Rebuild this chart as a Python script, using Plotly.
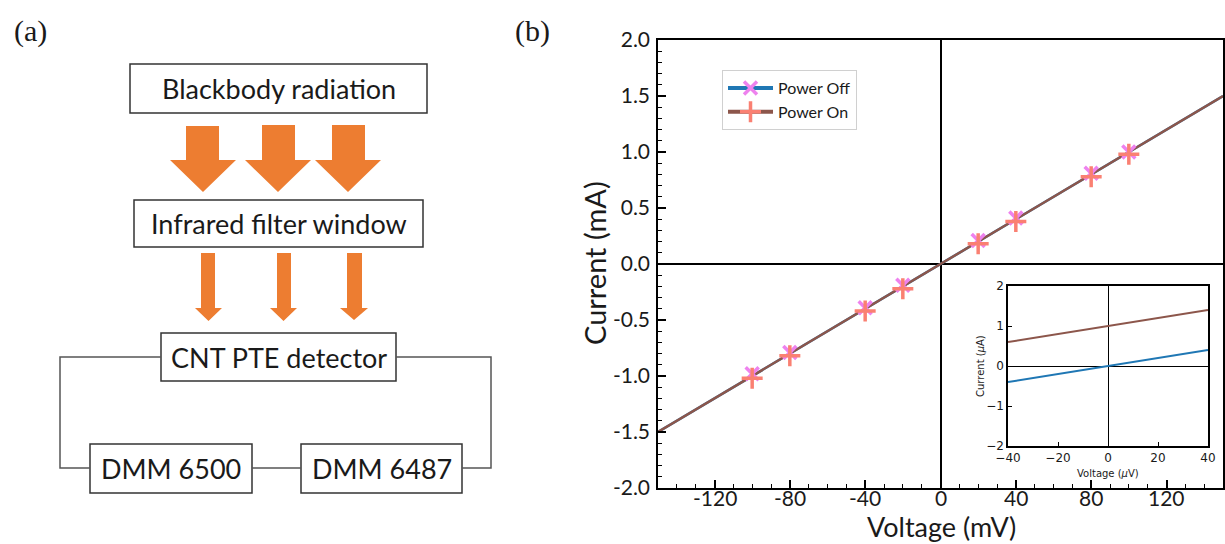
import plotly.graph_objects as go

W, H = 1225, 544

# ---------------- data ----------------
voltage_mv = [-100, -80, -40, -20, 20, 40, 80, 100]
current_off_ma = [-0.98, -0.79, -0.39, -0.19, 0.21, 0.41, 0.81, 1.00]
current_on_ma = [-1.02, -0.82, -0.42, -0.22, 0.18, 0.38, 0.78, 0.98]
fit_voltage_mv = [-150, 150]
fit_current_ma = [-1.5, 1.5]

inset_voltage_uv = [-40, 40]
inset_off_ua = [-0.4, 0.4]
inset_on_ua = [0.6, 1.4]

x_tick_vals = [-120, -80, -40, 0, 40, 80, 120]
x_tick_text = ["-120", "-80", "-40", "0", "40", "80", "120"]
y_tick_vals = [2.0, 1.5, 1.0, 0.5, 0.0, -0.5, -1.0, -1.5, -2.0]
y_tick_text = ["2.0", "1.5", "1.0", "0.5", "0.0", "-0.5", "-1.0", "-1.5", "-2.0"]
x_minor_vals = list(range(-150, 151, 10))
y_minor_vals = [round(-2 + 0.1 * i, 1) for i in range(41)]

inset_x_ticks = [-40, -20, 0, 20, 40]
inset_y_ticks = [-2, -1, 0, 1, 2]

BLUE = "#1f77b4"
BROWN = "#8c564b"
VIOLET = "#ee82ee"
SALMON = "#fa8072"
ORANGE = "#ed7d31"


def px(x):
    return x / W


def py(y):
    return 1 - y / H


fig = go.Figure()

fig.add_trace(go.Scatter(x=fit_voltage_mv, y=fit_current_ma, mode="lines",
                         line=dict(color=BLUE, width=2.5), showlegend=False,
                         xaxis="x", yaxis="y"))
fig.add_trace(go.Scatter(x=fit_voltage_mv, y=fit_current_ma, mode="lines",
                         line=dict(color=BROWN, width=2.5), showlegend=False,
                         xaxis="x", yaxis="y"))
fig.add_trace(go.Scatter(x=voltage_mv, y=current_off_ma, mode="markers",
                         marker=dict(symbol="x-thin", size=13, color=VIOLET,
                                     line=dict(color=VIOLET, width=3.5)),
                         showlegend=False, xaxis="x", yaxis="y"))
fig.add_trace(go.Scatter(x=voltage_mv, y=current_on_ma, mode="markers",
                         marker=dict(symbol="cross-thin", size=15, color=SALMON,
                                     line=dict(color=SALMON, width=3.5)),
                         showlegend=False, xaxis="x", yaxis="y"))
fig.add_trace(go.Scatter(x=[None], y=[None], mode="lines+markers", name="Power Off",
                         line=dict(color=BLUE, width=4),
                         marker=dict(symbol="x-thin", size=13, color=VIOLET,
                                     line=dict(color=VIOLET, width=3.5)),
                         xaxis="x", yaxis="y"))
fig.add_trace(go.Scatter(x=[None], y=[None], mode="lines+markers", name="Power On",
                         line=dict(color=BROWN, width=4),
                         marker=dict(symbol="cross-thin", size=15, color=SALMON,
                                     line=dict(color=SALMON, width=3.5)),
                         xaxis="x", yaxis="y"))

fig.add_trace(go.Scatter(x=inset_voltage_uv, y=inset_on_ua, mode="lines",
                         line=dict(color=BROWN, width=2), showlegend=False,
                         xaxis="x2", yaxis="y2"))
fig.add_trace(go.Scatter(x=inset_voltage_uv, y=inset_off_ua, mode="lines",
                         line=dict(color=BLUE, width=2), showlegend=False,
                         xaxis="x2", yaxis="y2"))

MAIN_FONT = "Lato, 'Open Sans', sans-serif"
INSET_FONT = "DejaVu Sans, sans-serif"
TEXT_COLOR = "#1a1a1a"


def axis_common(zw):
    return dict(showline=True, mirror=True, linecolor="black", linewidth=1.5,
                ticks="inside", tickcolor="black", showgrid=False, automargin=False,
                zeroline=True, zerolinecolor="black", zerolinewidth=zw)


fig.update_layout(
    width=W, height=H, autosize=False,
    margin=dict(l=0, r=0, t=0, b=0, pad=0),
    paper_bgcolor="white", plot_bgcolor="white",
    font=dict(family=MAIN_FONT, color=TEXT_COLOR),
    xaxis=dict(**axis_common(1.5), domain=[px(658), px(1223)], anchor="y",
               range=[-150, 150], tickmode="array", tickvals=x_tick_vals,
               ticktext=x_tick_text, ticklen=8, tickwidth=2,
               showticklabels=False,
               minor=dict(tickmode="array", tickvals=x_minor_vals, ticks="inside",
                          ticklen=4, tickwidth=1.2, tickcolor="black")),
    yaxis=dict(**axis_common(1.5), domain=[py(488), py(40)], anchor="x",
               range=[-2, 2], tickmode="array", tickvals=y_tick_vals,
               ticktext=y_tick_text, ticklen=8, tickwidth=2,
               tickfont=dict(size=21), ticklabelstandoff=2,
               minor=dict(tickmode="array", tickvals=y_minor_vals, ticks="inside",
                          ticklen=4, tickwidth=1.2, tickcolor="black")),
    xaxis2=dict(**axis_common(1.2), domain=[px(1008), px(1208)], anchor="y2",
                range=[-40, 40], tickmode="array", tickvals=inset_x_ticks,
                ticklen=4, tickwidth=1,
                tickfont=dict(size=12, family=INSET_FONT)),
    yaxis2=dict(**axis_common(1.2), domain=[py(446), py(286)], anchor="x2",
                range=[-2, 2], tickmode="array", tickvals=inset_y_ticks,
                ticklen=4, tickwidth=1,
                tickfont=dict(size=12, family=INSET_FONT)),
    legend=dict(x=px(722), y=py(70), xanchor="left", yanchor="top",
                bgcolor="white", bordercolor="#d0d0d0", borderwidth=1,
                itemwidth=45,
                font=dict(size=16, family=MAIN_FONT), tracegroupgap=0),
)

# main x tick labels, placed on the x axis scale
for val, txt in zip(x_tick_vals, x_tick_text):
    fig.add_annotation(x=val, xref="x", y=py(497.5), yref="paper", text=txt,
                       showarrow=False, xanchor="center", yanchor="middle",
                       font=dict(size=21, family=MAIN_FONT, color=TEXT_COLOR))

axis_titles = [
    ("Voltage (mV)", 941, 526.5, 0, 27, MAIN_FONT),
    ("Current (mA)", 594, 263, -90, 29, MAIN_FONT),
    ("Voltage (<i>μ</i>V)", 1108, 473, 0, 10, INSET_FONT),
    ("Current (<i>μ</i>A)", 980, 366, -90, 10, INSET_FONT),
]
for txt, cx, cy, ang, fs, fam in axis_titles:
    fig.add_annotation(x=px(cx), y=py(cy), xref="paper", yref="paper", text=txt,
                       showarrow=False, textangle=ang, xanchor="center", yanchor="middle",
                       font=dict(size=fs, family=fam, color=TEXT_COLOR))

fig.add_shape(type="rect", xref="paper", yref="paper", layer="below",
              x0=px(1008), x1=px(1208), y0=py(446), y1=py(286),
              fillcolor="white", line=dict(width=0))

BOX_FONT = dict(family=MAIN_FONT, size=27, color=TEXT_COLOR)
boxes = [
    ("Blackbody radiation", 130, 64, 427, 113),
    ("Infrared filter window", 134, 200, 423, 247),
    ("CNT PTE detector", 161, 333, 396, 381),
    ("DMM 6500", 90, 444, 252, 493),
    ("DMM 6487", 301, 444, 462, 493),
]
for label, x0, y0, x1, y1 in boxes:
    fig.add_shape(type="rect", xref="paper", yref="paper",
                  x0=px(x0), x1=px(x1), y0=py(y1), y1=py(y0),
                  line=dict(color="#333333", width=1.5), fillcolor="white")
    fig.add_annotation(x=px((x0 + x1) / 2), y=py((y0 + y1) / 2), xref="paper", yref="paper",
                       text=label, showarrow=False, font=BOX_FONT,
                       xanchor="center", yanchor="middle")

wires = [
    [(161, 357), (60, 357), (60, 468), (90, 468)],
    [(396, 357), (491, 357), (491, 468), (462, 468)],
    [(252, 468), (301, 468)],
]
for pts in wires:
    path = "M " + " L ".join(f"{px(x):.5f},{py(y):.5f}" for x, y in pts)
    fig.add_shape(type="path", xref="paper", yref="paper", path=path,
                  line=dict(color="#555555", width=1.5))


def arrow(sx1, sx2, top, hb, hx1, hx2, tip):
    tx = (hx1 + hx2) / 2
    pts = [(sx1, top), (sx2, top), (sx2, hb), (hx2, hb), (tx, tip), (hx1, hb), (sx1, hb)]
    path = "M " + " L ".join(f"{px(x):.5f},{py(y):.5f}" for x, y in pts) + " Z"
    fig.add_shape(type="path", xref="paper", yref="paper", path=path,
                  fillcolor=ORANGE, line=dict(width=0))


arrow(186, 219, 126, 160, 170, 236, 192)
arrow(262, 295, 125, 160, 245, 311, 192)
arrow(332, 365, 125, 160, 315, 381, 192)
arrow(201, 215, 253, 308, 195, 222, 321)
arrow(277, 291, 253, 308, 270, 297, 321)
arrow(347, 362, 253, 308, 340, 368, 320)

for lab, cx, cy in [("(a)", 30, 31), ("(b)", 532, 31)]:
    fig.add_annotation(x=px(cx), y=py(cy), xref="paper", yref="paper", text=lab,
                       showarrow=False, xanchor="center", yanchor="middle",
                       font=dict(family="Liberation Serif, serif", size=30, color=TEXT_COLOR))

fig.write_html("out.html")
